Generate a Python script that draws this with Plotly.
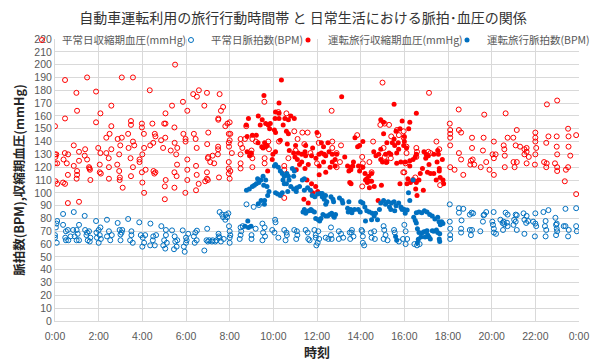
import plotly.graph_objects as go

# ---------------- data (hours of day, value) ----------------
normal_bp_hours = [
    0.0, 0.46, 0.98, 1.01, 0.46, 1.47, 1.88, 2.08, 2.58, 1.88,
    2.58, 3.06, 3.57, 4.34, 5.5, 5.36, 5.06, 5.86, 6.06, 5.06,
    5.47, 6.33, 6.59, 6.5, 6.96, 6.84, 7.54, 7.7, 7.6, 7.48,
    7.48, 8.0, 7.8, 7.9, 3.48, 3.48, 3.98, 3.98, 4.46, 5.0,
    2.5, 2.35, 3.06, 3.35, 2.87, 3.57, 4.07, 4.57, 4.6, 5.05,
    4.5, 4.86, 5.88, 5.98, 5.98, 6.36, 6.44, 7.02, 6.97, 7.47,
    7.96, 7.96, 0.86, 1.1, 1.38, 1.36, 1.98, 2.08, 2.58, 2.35,
    2.99, 2.94, 3.37, 3.63, 4.0, 4.08, 4.36, 4.95, 5.3, 5.48,
    5.6, 5.55, 6.49, 7.0, 7.02, 7.22, 7.46, 7.47, 7.11, 7.29,
    7.96, 0.0, 0.02, 0.06, 0.45, 0.6, 0.39, 0.1, 0.0, 0.54,
    0.86, 1.1, 1.47, 1.56, 1.6, 1.58, 2.05, 2.46, 2.47, 2.85,
    3.46, 3.87, 3.87, 3.57, 4.15, 6.06, 5.59, 6.46, 0.59, 1.01,
    1.01, 0.99, 1.62, 2.05, 2.1, 2.47, 2.94, 2.97, 2.96, 3.48,
    3.98, 4.51, 4.55, 4.6, 5.07, 5.47, 5.57, 6.06, 6.06, 6.49,
    6.96, 6.96, 7.0, 7.51, 7.96, 7.96, 0.02, 0.1, 0.37, 0.46,
    4.0, 5.03, 5.47, 5.97, 6.46, 6.58, 6.88, 3.1, 4.08, 5.03,
    0.59, 1.1, 8.03, 8.0, 7.97, 8.1, 8.03, 8.0, 8.5, 8.5,
    8.58, 8.5, 8.5, 8.5, 8.7, 8.76, 9.04, 9.0, 8.98, 9.04,
    9.04, 9.2, 9.59, 9.6, 9.6, 9.77, 9.8, 10.23, 10.26, 10.5,
    10.5, 10.69, 10.6, 10.96, 11.11, 11.02, 11.33, 11.57, 11.42, 11.7,
    12.0, 12.06, 12.08, 12.67, 12.7, 13.1, 13.05, 12.9, 12.9, 12.7,
    13.84, 14.07, 14.1, 14.07, 14.04, 14.57, 14.5, 14.4, 15.0, 15.05,
    15.1, 14.9, 15.1, 15.3, 15.4, 15.66, 15.75, 16.0, 15.38, 15.17,
    10.5, 15.97, 15.97, 16.1, 16.1, 16.05, 16.55, 16.58, 16.55, 17.47,
    17.6, 17.1, 17.2, 15.95, 16.5, 16.4, 17.64, 17.13, 18.49, 19.66,
    20.64, 22.53, 23.0, 18.08, 18.1, 18.1, 18.1, 18.1, 18.5, 18.6,
    19.1, 19.63, 19.1, 18.5, 18.6, 18.3, 18.7, 18.1, 19.6, 19.75,
    19.5, 19.9, 19.05, 19.13, 19.02, 19.2, 20.1, 20.04, 20.18, 20.1,
    20.1, 20.73, 20.55, 20.6, 20.58, 20.6, 20.99, 21.15, 21.1, 21.0,
    21.05, 21.15, 21.3, 21.5, 21.6, 21.6, 21.5, 21.7, 21.6, 22.0,
    22.0, 22.0, 22.04, 22.0, 21.98, 22.5, 22.5, 22.4, 22.52, 22.6,
    22.98, 22.98, 23.0, 22.9, 23.0, 23.0, 23.5, 23.52, 23.52, 23.6,
    23.5, 23.4, 23.35, 23.87, 23.87,
]
normal_bp_values = [
    152, 188, 178, 164, 158, 190, 179, 162, 168, 155,
    152, 190, 190, 180, 200, 168, 162, 171, 164, 154,
    151, 177, 180, 175, 178, 168, 177, 167, 164, 158,
    157, 155, 152, 154, 156, 153, 154, 151, 154, 154,
    146, 143, 143, 146, 142, 140, 146, 146, 144, 143,
    139, 141, 146, 142, 140, 146, 142, 147, 138, 136,
    146, 139, 137, 132, 134, 129, 135, 131, 134, 131,
    137, 130, 135, 137, 130, 135, 137, 135, 133, 139,
    135, 130, 135, 127, 128, 129, 130, 134, 124, 123,
    124, 130, 128, 130, 131, 130, 126, 123, 123, 123,
    121, 125, 126, 120, 118, 119, 122, 127, 120, 122,
    127, 126, 124, 120, 118, 126, 122, 121, 114, 117,
    114, 111, 110, 116, 115, 111, 117, 112, 110, 113,
    116, 117, 115, 116, 110, 116, 113, 118, 110, 114,
    116, 111, 110, 112, 119, 115, 109, 107, 108, 107,
    108, 105, 104, 100, 102, 107, 109, 104, 100, 95,
    92, 93, 146, 141, 136, 131, 117, 111, 142, 138,
    135, 130, 123, 119, 142, 152, 142, 133, 130, 127,
    120, 140, 171, 127, 123, 140, 134, 163, 140, 121,
    118, 127, 162, 148, 142, 133, 147, 147, 138, 131,
    123, 145, 139, 164, 140, 137, 124, 131, 120, 135,
    145, 128, 123, 105, 120, 140, 116, 124, 186, 135,
    128, 153, 154, 153, 144, 149, 145, 116, 127, 124,
    96, 148, 143, 136, 131, 123, 135, 132, 128, 140,
    134, 132, 131, 116, 112, 110, 106, 178, 165, 161,
    162, 169, 172, 154, 149, 146, 143, 137, 149, 147,
    143, 143, 135, 131, 126, 118, 114, 120, 133, 124,
    120, 118, 125, 126, 122, 122, 140, 130, 130, 127,
    114, 143, 137, 129, 134, 120, 143, 149, 137, 124,
    120, 124, 136, 134, 135, 132, 130, 128, 123, 147,
    143, 140, 135, 130, 122, 139, 120, 124, 123, 144,
    144, 136, 130, 123, 120, 117, 150, 144, 136, 129,
    120, 118, 109, 145, 99,
]

normal_pulse_hours = [
    0.37, 0.86, 1.36, 1.88, 2.38, 2.87, 3.35, 3.86, 4.37, 4.87,
    5.36, 5.85, 6.5, 6.97, 7.54, 7.65, 7.7, 7.8, 7.83, 0.1,
    0.07, 0.04, 0.0, 0.0, 0.08, 0.37, 0.5, 0.47, 0.59, 0.5,
    0.61, 0.71, 0.83, 0.9, 0.99, 0.99, 1.1, 1.04, 1.1, 1.38,
    1.44, 1.5, 1.47, 1.56, 1.62, 1.59, 1.9, 1.92, 2.0, 2.0,
    2.05, 2.1, 2.08, 2.47, 2.38, 2.53, 2.6, 2.96, 3.0, 3.0,
    3.08, 3.05, 3.5, 3.44, 3.56, 3.5, 3.93, 4.02, 4.0, 4.08,
    4.13, 4.5, 4.48, 4.36, 4.57, 4.63, 5.0, 4.96, 5.05, 5.08,
    5.08, 5.12, 5.48, 5.51, 5.45, 5.57, 5.6, 5.9, 5.94, 6.0,
    6.03, 6.0, 6.1, 6.36, 6.4, 6.43, 6.49, 6.84, 6.94, 7.0,
    7.06, 7.19, 7.22, 7.34, 7.4, 7.5, 7.54, 7.49, 7.6, 7.73,
    7.94, 7.88, 8.77, 9.1, 9.34, 7.97, 8.0, 8.03, 8.0, 8.0,
    8.5, 8.53, 8.5, 8.46, 8.6, 9.0, 9.0, 9.19, 9.5, 9.6,
    9.53, 9.62, 9.5, 9.95, 10.05, 10.08, 10.1, 10.23, 10.5, 10.6,
    10.56, 10.62, 10.96, 11.08, 11.05, 11.1, 11.48, 11.57, 11.6, 11.66,
    11.88, 11.94, 11.94, 12.06, 12.03, 11.97, 12.1, 12.4, 12.52, 12.64,
    12.64, 12.67, 13.0, 13.1, 13.0, 13.2, 13.5, 13.52, 13.58, 13.6,
    13.67, 14.04, 14.07, 14.1, 14.1, 14.16, 14.47, 14.5, 14.62, 14.65,
    15.05, 15.08, 15.14, 15.05, 15.23, 15.53, 15.56, 15.75, 16.0, 16.06,
    15.94, 16.13, 16.06, 16.46, 16.58, 16.7, 18.08, 18.5, 18.7, 18.5,
    19.08, 19.0, 19.15, 19.75, 19.63, 20.09, 20.64, 20.73, 21.1, 21.15,
    21.46, 21.6, 22.0, 22.37, 22.6, 22.92, 23.38, 23.87, 18.08, 18.1,
    18.1, 18.1, 18.62, 18.6, 18.6, 19.0, 19.1, 19.05, 19.48, 19.6,
    19.66, 20.03, 20.06, 20.1, 20.1, 20.2, 20.4, 20.55, 20.5, 20.58,
    20.52, 20.7, 20.73, 21.1, 21.0, 21.15, 21.03, 21.5, 21.58, 21.5,
    21.67, 21.9, 22.0, 22.04, 21.98, 22.47, 22.44, 22.5, 22.47, 22.98,
    22.98, 23.0, 22.95, 22.95, 23.3, 23.38, 23.53, 23.5, 23.87, 23.9,
]
normal_pulse_values = [
    83.5, 85, 82, 78, 79, 76.5, 79.6, 77, 76, 74,
    70.7, 70.7, 70.5, 72, 85, 83, 81, 79, 83, 78,
    76, 73, 67, 65, 61, 75, 70, 65, 71, 63,
    63, 66, 71, 66, 63, 71, 75, 68, 63, 71,
    67, 63, 69, 70, 65, 62, 69, 65, 71, 61,
    67, 64, 73, 70, 66, 63, 67, 71, 67.5, 63,
    71, 69, 67, 63, 61, 70, 67, 65, 58, 61,
    67, 66, 63, 59, 59, 67, 63, 59, 56.5, 71,
    67, 61, 66, 62, 56, 58, 63, 58, 54, 65,
    63, 61, 68, 66, 61, 69, 63, 55, 63, 62,
    63, 62, 63, 62, 63, 66, 65, 68, 62, 64,
    84, 81, 91, 89, 90.5, 74, 70, 67, 65, 61,
    73, 70, 67, 64, 74, 67, 64, 72, 76, 73,
    69, 66, 63, 71, 69, 79, 77, 65, 71, 69,
    63, 67, 71, 70, 64, 67, 71, 69, 64, 63,
    71, 67, 65, 70, 61, 59, 64, 65, 64, 73,
    67, 64, 70, 68, 64, 65, 69, 64, 69, 71,
    66, 71, 70, 66, 61, 59, 69, 65, 70, 64,
    74, 71, 67, 64, 63, 71, 69, 62, 75, 70,
    64, 64, 60, 60, 59, 60, 91, 88, 87.5, 84.5,
    84.5, 83, 84, 85, 82.5, 85, 84.5, 83, 83, 82.5,
    84, 82, 84, 85, 86.5, 80.5, 87.5, 88, 77.5, 72,
    67, 64, 78.5, 72, 69, 71, 71, 67, 70, 77.5,
    83, 77.5, 75, 72, 69, 68, 79, 77.5, 76.5, 75.5,
    71, 76.7, 74, 77.5, 75, 71, 79, 79, 76.5, 68,
    78, 77.5, 76, 74, 66, 78, 74, 71, 66, 76,
    72, 70, 67, 75, 74, 74, 71, 66, 74, 70,
]

trip_bp_hours = [
    10.37, 13.13, 15.53, 9.57, 10.26, 8.86, 8.76, 9.31, 9.49, 9.65,
    9.4, 9.77, 9.86, 9.83, 10.1, 10.26, 10.08, 10.26, 10.53, 10.8,
    10.96, 10.69, 10.1, 10.05, 10.45, 10.6, 10.69, 10.32, 9.22, 9.04,
    8.8, 9.3, 9.47, 9.53, 9.65, 9.6, 9.72, 8.8, 8.98, 8.91,
    9.74, 9.95, 9.98, 10.1, 10.64, 10.73, 11.02, 10.93, 11.14, 10.99,
    11.1, 11.3, 11.45, 11.48, 11.3, 11.2, 11.05, 11.45, 11.6, 11.48,
    11.8, 12.0, 11.75, 11.95, 12.09, 12.2, 12.2, 12.3, 12.33, 12.4,
    12.3, 12.1, 12.55, 12.7, 12.7, 12.83, 12.6, 12.4, 12.83, 12.5,
    12.9, 13.27, 13.4, 13.46, 13.55, 13.64, 13.67, 13.74, 13.95, 13.86,
    14.1, 13.9, 13.95, 13.5, 13.56, 14.22, 14.28, 14.37, 14.5, 14.4,
    14.3, 14.62, 14.5, 14.6, 14.7, 14.83, 14.92, 15.0, 14.92, 15.14,
    15.2, 15.05, 15.2, 15.3, 15.38, 15.45, 15.53, 15.56, 15.62, 15.72,
    15.74, 15.65, 15.65, 15.84, 15.8, 16.0, 14.92, 15.05, 11.54, 11.75,
    11.8, 11.4, 11.6, 12.03, 11.94, 12.1, 13.55, 14.2, 14.37, 14.95,
    14.8, 15.8, 14.1, 16.55, 15.9, 16.25, 16.2, 16.0, 15.97, 16.1,
    16.04, 16.25, 16.25, 16.5, 16.55, 16.4, 16.9, 17.0, 16.98, 17.1,
    17.35, 17.53, 17.56, 17.74, 17.5, 17.13, 17.06, 17.2, 17.35, 17.6,
    17.6, 17.64, 17.46, 17.77, 17.8, 16.83, 16.73, 16.67, 16.55, 16.87,
    16.52, 16.58, 16.16, 16.28, 16.12,
]
trip_bp_values = [
    188, 175, 169, 176, 170, 158, 153, 160, 157, 154,
    153, 153, 154, 150, 163, 162, 158, 158, 158, 160,
    158, 157, 147, 149, 153, 148, 146, 141, 145, 145,
    144, 139, 136, 135, 136, 139, 137, 132, 131, 129,
    117, 126, 130, 132, 138, 133, 137, 131, 131, 128,
    126, 130, 132, 129, 124, 122, 118, 119, 122, 137,
    135, 147, 129, 127, 130, 131, 139, 136, 130, 129,
    124, 121, 132, 130, 124, 121, 120, 116, 126, 139,
    130, 128, 121, 117, 118, 121, 124, 143, 137, 136,
    140, 121, 117, 108, 107, 110, 111, 109, 115, 104,
    108, 105, 109, 132, 129, 130, 126, 124, 134, 130,
    124, 146, 139, 131, 130, 139, 142, 137, 148, 139,
    134, 131, 123, 124, 150, 140, 157, 155, 110, 107,
    100, 95, 92, 101, 105, 114, 120, 115, 113, 106,
    94, 107, 120, 162, 156, 155, 150, 144, 137, 135,
    124, 125, 121, 128, 130, 126, 132, 130, 127, 129,
    130, 133, 130, 126, 124, 122, 116, 115, 115, 119,
    117, 112, 110, 110, 107, 119, 115, 110, 108, 102,
    103, 98, 111, 108, 107,
]

trip_pulse_hours = [
    8.77, 8.9, 9.04, 9.13, 9.22, 9.34, 9.28, 9.43, 9.53, 9.65,
    9.56, 9.71, 10.05, 10.1, 10.23, 10.32, 10.41, 10.5, 10.62, 10.69,
    10.44, 10.5, 10.6, 10.72, 10.87, 10.96, 10.93, 10.8, 10.93, 11.05,
    11.08, 11.2, 11.33, 11.42, 11.57, 11.42, 10.66, 10.1, 10.2, 10.32,
    10.41, 9.8, 9.74, 9.6, 9.44, 9.31, 9.59, 11.7, 11.78, 11.9,
    12.03, 12.15, 12.24, 12.24, 12.39, 12.33, 12.45, 12.4, 12.64, 12.73,
    12.76, 13.03, 13.15, 11.42, 11.36, 11.5, 11.48, 11.63, 11.72, 11.78,
    11.88, 11.94, 12.06, 12.18, 12.12, 12.27, 12.4, 12.49, 12.58, 12.67,
    12.76, 12.79, 12.85, 13.18, 13.4, 13.43, 13.55, 13.46, 13.6, 13.72,
    13.89, 13.98, 14.0, 14.1, 14.19, 14.28, 14.4, 14.22, 14.5, 14.53,
    14.62, 14.68, 14.77, 14.86, 14.92, 15.05, 15.14, 15.26, 15.32, 15.41,
    15.53, 15.62, 15.74, 15.84, 15.9, 15.38, 15.56, 15.6, 15.65, 8.83,
    8.7, 8.86, 8.98, 16.4, 16.19, 16.25, 15.88, 16.0, 16.13, 16.04,
    16.55, 16.67, 16.8, 16.92, 17.04, 17.16, 17.28, 17.4, 17.53, 17.59,
    17.71, 17.77, 17.65, 16.43, 16.5, 16.55, 16.6, 16.67, 16.8, 16.9,
    17.0, 17.07, 17.13, 17.04, 17.35, 17.47, 17.53, 17.62, 17.6, 17.62,
    16.64, 16.6, 16.76, 16.95, 17.19, 17.28,
]
trip_pulse_values = [
    102, 103, 105, 106, 107, 108, 111, 110, 113, 110,
    106, 105, 121, 122, 120, 117, 115, 113, 115, 113,
    110, 107, 107, 110, 119, 117, 113, 105, 103, 101,
    104, 105, 110, 111, 104, 102, 101, 100, 99, 98,
    100, 101, 98, 94, 94, 91.5, 91, 102, 98, 97,
    99, 99.5, 99.5, 97, 98, 95, 93, 91, 97, 95,
    93, 96, 94, 87, 85, 85, 84, 86, 87, 86,
    85, 80, 79, 80, 78, 83, 82, 82, 83, 84,
    82, 81, 83, 92, 88, 85, 87, 93, 84.5, 87,
    87, 85, 93, 92, 89, 86, 85, 78, 79, 84,
    82, 84, 79, 87, 92, 94, 91, 93, 89, 92,
    93, 90, 92, 89, 87, 87, 86, 66, 63, 78,
    74, 73, 74, 110, 100, 94, 88, 87, 86.5, 84,
    84.5, 85, 84.5, 86, 85, 83, 82, 79.6, 81, 77.5,
    77.5, 76, 75, 81, 78.5, 76.5, 72, 69, 68.7, 69.7,
    70, 67, 65.5, 70.5, 70, 71, 69, 68, 64, 62,
    63.7, 61, 65.5, 65.5, 64, 70.5,
]

series_names = [
    "平常日収縮期血圧(mmHg)",
    "平常日脈拍数(BPM)",
    "運転旅行収縮期血圧(mmHg)",
    "運転旅行脈拍数(BPM)",
]
tick_hours = [0, 2, 4, 6, 8, 10, 12, 14, 16, 18, 20, 22, 24]
tick_labels = ["0:00", "2:00", "4:00", "6:00", "8:00", "10:00", "12:00",
               "14:00", "16:00", "18:00", "20:00", "22:00", "0:00"]

title_text = "自動車運転利用の旅行行動時間帯 と 日常生活における脈拍･血圧の関係"
x_title = "時刻"
y_title = "脈拍数(BPM),収縮期血圧(mmHg)"

# ---------------- figure ----------------
W, H = 606, 364
RED = "#FF0000"
BLUE = "#0070C0"
FONT = "Noto Sans CJK JP"
TICK_FONT = "Liberation Sans"
LEGEND_FONT = 10.5

fig = go.Figure()
fig.add_trace(go.Scatter(
    x=normal_bp_hours, y=normal_bp_values, mode="markers", name=series_names[0],
    legend="legend",
    marker=dict(symbol="circle-open", size=5, color=RED, line=dict(width=1, color=RED))))
fig.add_trace(go.Scatter(
    x=normal_pulse_hours, y=normal_pulse_values, mode="markers", name=series_names[1],
    legend="legend2",
    marker=dict(symbol="circle-open", size=5, color=BLUE, line=dict(width=1, color=BLUE))))
fig.add_trace(go.Scatter(
    x=trip_bp_hours, y=trip_bp_values, mode="markers", name=series_names[2],
    legend="legend3",
    marker=dict(symbol="circle", size=5, color=RED)))
fig.add_trace(go.Scatter(
    x=trip_pulse_hours, y=trip_pulse_values, mode="markers", name=series_names[3],
    legend="legend4",
    marker=dict(symbol="circle", size=5, color=BLUE)))


def legend_box(left_px):
    return dict(orientation="h", xref="container", yref="container",
                x=left_px / W, xanchor="left", y=1 - 40 / H, yanchor="middle",
                font=dict(family=FONT, size=LEGEND_FONT, color="#595959"),
                itemwidth=30, bgcolor="rgba(0,0,0,0)", borderwidth=0,
                itemclick=False, itemdoubleclick=False)


fig.update_layout(
    width=W, height=H,
    margin=dict(l=55, r=27, t=39, b=43, autoexpand=False),
    paper_bgcolor="white", plot_bgcolor="white",
    font=dict(family=FONT, color="#595959", size=11),
    title=dict(text=title_text, x=0.5, xref="container", xanchor="center",
               y=1 - 18 / H, yref="container", yanchor="middle",
               font=dict(family=FONT, size=14, color="#333333")),
    showlegend=True,
    legend=legend_box(22),
    legend2=legend_box(171),
    legend3=legend_box(288),
    legend4=legend_box(447),
)
fig.update_xaxes(
    range=[0, 24], tickmode="array", tickvals=tick_hours, ticktext=tick_labels,
    showgrid=True, gridcolor="#d9d9d9", gridwidth=1, zeroline=False,
    showline=True, linecolor="#d9d9d9", ticks="", automargin=False,
    ticklabelstandoff=5,
    tickfont=dict(family=TICK_FONT, size=10.5, color="#595959"),
    title=dict(text="<b>" + x_title + "</b>", standoff=3,
               font=dict(family=FONT, size=13, color="#262626")),
)
fig.update_yaxes(
    range=[0, 220], dtick=10, tick0=0,
    showgrid=True, gridcolor="#d9d9d9", gridwidth=1, zeroline=False,
    showline=True, linecolor="#d9d9d9", ticks="", automargin=False,
    tickfont=dict(family=TICK_FONT, size=10.5, color="#595959"),
    title=dict(text="<b>" + y_title + "</b>", standoff=6,
               font=dict(family=FONT, size=12.5, color="#262626")),
)

# the page is photographed at exactly the figure size: drop the default body margin
fig.write_html("out.html", config={"displayModeBar": False},
               post_script="document.body.style.margin='0';")
